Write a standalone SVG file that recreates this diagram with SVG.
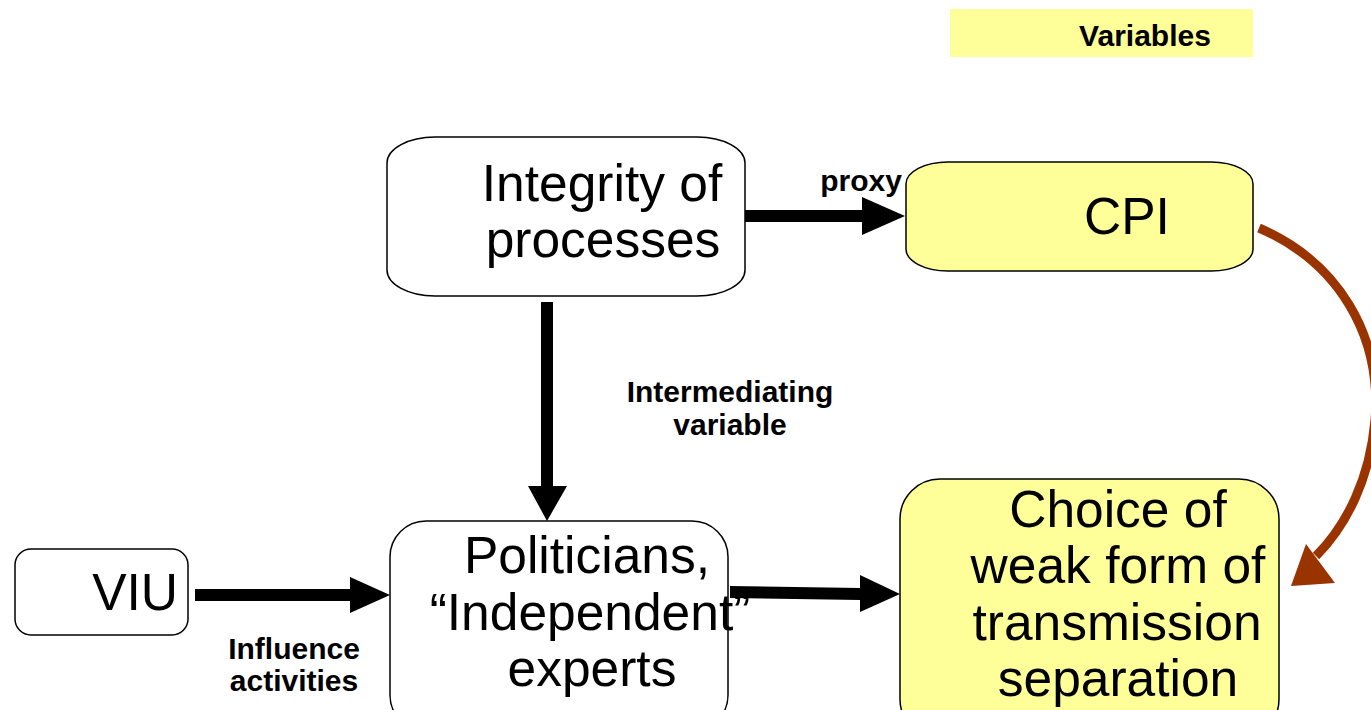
<svg xmlns="http://www.w3.org/2000/svg" width="1371" height="710" viewBox="0 0 1371 710">
<style>
.box{fill:#ffffff;stroke:#000;stroke-width:1.5}
.ybox{fill:#ffff99;stroke:#000;stroke-width:1.5}
.big{font-family:"Liberation Sans",Arial,sans-serif;font-size:51.5px;fill:#000}
.lbl{font-family:"Liberation Sans",Arial,sans-serif;font-size:30px;font-weight:bold;fill:#000}
.arr{fill:#000;stroke:none}
</style>
<rect width="1371" height="710" fill="#ffffff"/>
<g id="legend">
<rect x="950" y="9" width="303" height="48" fill="#ffff99"/>
<text class="lbl" x="1145" y="46" text-anchor="middle">Variables</text>
</g>
<g id="integrity">
<rect class="box" x="387" y="137" width="358" height="159" rx="48" ry="26"/>
<text class="big" x="602" y="201" text-anchor="middle">Integrity of</text>
<text class="big" x="603" y="257" text-anchor="middle">processes</text>
</g>
<g id="cpi">
<rect class="ybox" x="906" y="162" width="347" height="109" rx="42" ry="22"/>
<text class="big" x="1127" y="234" text-anchor="middle">CPI</text>
</g>
<g id="viu">
<rect class="box" x="15" y="549" width="173" height="86" rx="16" ry="16"/>
<text class="big" x="178" y="610" text-anchor="end">VIU</text>
</g>
<g id="politicians">
<rect class="box" x="390" y="521" width="338" height="210" rx="36" ry="36"/>
<text class="big" x="587" y="573" text-anchor="middle">Politicians,</text>
<text class="big" x="590" y="630" text-anchor="middle">“Independent”</text>
<text class="big" x="592" y="686" text-anchor="middle">experts</text>
</g>
<g id="choice">
<rect class="ybox" x="900" y="479" width="379" height="260" rx="40" ry="40"/>
<text class="big" x="1118" y="527" text-anchor="middle">Choice of</text>
<text class="big" x="1118" y="583" text-anchor="middle">weak form of</text>
<text class="big" x="1117" y="640" text-anchor="middle">transmission</text>
<text class="big" x="1118" y="696" text-anchor="middle">separation</text>
</g>
<g id="connectors">
<polygon class="arr" points="745,210 862,210 862,197 905,216 862,235 862,222 745,222"/>
<text class="lbl" x="861" y="191" text-anchor="middle">proxy</text>
<polygon class="arr" points="541,302 553,302 553,486 567,486 547,521 528,486 541,486"/>
<text class="lbl" x="730" y="402" text-anchor="middle">Intermediating</text>
<text class="lbl" x="730" y="435" text-anchor="middle">variable</text>
<polygon class="arr" points="195,589 350,589 350,577 390,595 350,613 350,601 195,601"/>
<text class="lbl" x="294" y="659" text-anchor="middle">Influence</text>
<text class="lbl" x="294" y="691" text-anchor="middle">activities</text>
<polygon class="arr" points="730,586 860,588 860,575 900,594 860,612 860,600 730,598"/>
<path d="M1259,228 C1338,262 1382,335 1375,420 C1370,478 1347,525 1316,556" fill="none" stroke="#993300" stroke-width="9"/>
<polygon points="1291,586 1306,544 1335,583" fill="#993300"/>
</g>
</svg>
